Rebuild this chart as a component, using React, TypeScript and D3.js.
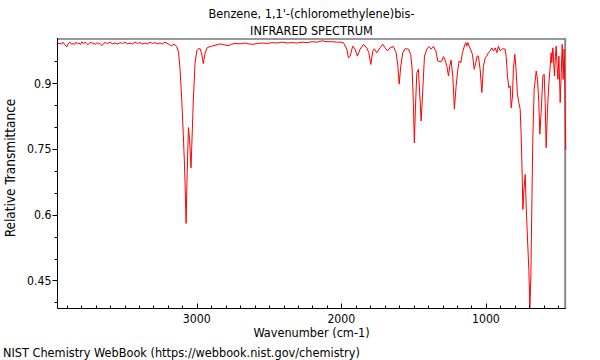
import React from "react";
import * as d3 from "d3";

const TITLE = "Benzene, 1,1'-(chloromethylene)bis-";
const SUBTITLE = "INFRARED SPECTRUM";
const X_LABEL = "Wavenumber (cm-1)";
const Y_LABEL = "Relative Transmittance";
const FOOTER = "NIST Chemistry WebBook (https://webbook.nist.gov/chemistry)";

const X_DOMAIN: [number, number] = [3965, 448];
const Y_DOMAIN: [number, number] = [0.3863, 0.9989];
const X_MAJOR_TICKS = [3000, 2000, 1000];
const X_MINOR_TICKS = [3900, 3800, 3700, 3600, 3500, 3400, 3300, 3200, 3100, 2900, 2800, 2700, 2600, 2500, 2400, 2300, 2200, 2100, 1900, 1800, 1700, 1600, 1500, 1400, 1300, 1200, 1100, 900, 800, 700, 600, 500];
const Y_MAJOR_TICKS = [0.45, 0.6, 0.75, 0.9];
const Y_MINOR_TICKS = [0.4, 0.5, 0.55, 0.65, 0.7, 0.8, 0.85, 0.95];

// [wavenumber (cm-1), relative transmittance]
const SPECTRUM: [number, number][] = [
  [3965, 0.994], [3956, 0.990], [3946, 0.992], [3936, 0.989], [3926, 0.994], [3912, 0.988], [3900, 0.983], [3888, 0.991],
  [3877, 0.994], [3866, 0.989], [3856, 0.991], [3846, 0.988], [3836, 0.994], [3825, 0.990], [3815, 0.992], [3804, 0.989],
  [3794, 0.995], [3783, 0.990], [3773, 0.994], [3762, 0.991], [3752, 0.988], [3742, 0.992], [3732, 0.994], [3721, 0.990],
  [3711, 0.992], [3700, 0.989], [3690, 0.993], [3680, 0.990], [3670, 0.991], [3656, 0.986], [3645, 0.991], [3635, 0.993],
  [3618, 0.991], [3600, 0.994], [3583, 0.990], [3566, 0.992], [3548, 0.990], [3531, 0.993], [3514, 0.991], [3497, 0.994],
  [3480, 0.990], [3462, 0.992], [3445, 0.990], [3427, 0.994], [3410, 0.991], [3393, 0.993], [3375, 0.990], [3358, 0.992],
  [3341, 0.990], [3324, 0.994], [3306, 0.991], [3289, 0.993], [3272, 0.990], [3254, 0.992], [3237, 0.990], [3220, 0.994],
  [3199, 0.990], [3186, 0.988], [3173, 0.985], [3157, 0.990],
  [3139, 0.984], [3126, 0.971], [3116, 0.933], [3104, 0.862], [3093, 0.780], [3085, 0.713], [3079, 0.645], [3074, 0.580],
  [3067, 0.691], [3058, 0.799], [3050, 0.771], [3040, 0.707], [3031, 0.793], [3024, 0.862], [3012, 0.946], [3000, 0.974],
  [2989, 0.979], [2977, 0.979], [2966, 0.967], [2955, 0.945], [2943, 0.969], [2929, 0.981], [2908, 0.984], [2881, 0.986],
  [2860, 0.988], [2839, 0.990], [2812, 0.988], [2784, 0.986], [2760, 0.989], [2736, 0.991], [2700, 0.990], [2666, 0.992],
  [2640, 0.990], [2611, 0.989], [2580, 0.991], [2548, 0.992], [2512, 0.991], [2479, 0.993], [2445, 0.992], [2410, 0.994],
  [2375, 0.992], [2341, 0.993], [2305, 0.992], [2272, 0.994], [2238, 0.993], [2202, 0.995], [2168, 0.994], [2133, 0.997],
  [2100, 0.995], [2064, 0.995], [2035, 0.994], [2009, 0.994], [1986, 0.993],
  [1962, 0.978], [1951, 0.958], [1940, 0.962], [1921, 0.985], [1905, 0.978], [1889, 0.962], [1870, 0.978], [1847, 0.989],
  [1824, 0.981], [1810, 0.970], [1796, 0.943], [1782, 0.974], [1773, 0.979], [1755, 0.970], [1732, 0.981], [1713, 0.989],
  [1697, 0.981], [1681, 0.974], [1663, 0.981], [1640, 0.984], [1621, 0.970], [1609, 0.939], [1600, 0.898], [1589, 0.939],
  [1575, 0.970], [1559, 0.979], [1536, 0.978], [1520, 0.966], [1510, 0.932], [1502, 0.856], [1495, 0.764], [1488, 0.839],
  [1478, 0.924], [1467, 0.932], [1457, 0.871], [1448, 0.814], [1439, 0.871], [1425, 0.962], [1409, 0.978], [1393, 0.984],
  [1379, 0.978], [1363, 0.984], [1346, 0.974], [1333, 0.951], [1317, 0.949], [1305, 0.951], [1294, 0.961], [1282, 0.953],
  [1270, 0.939], [1259, 0.917], [1250, 0.939], [1241, 0.953], [1229, 0.917], [1218, 0.841], [1206, 0.894], [1194, 0.932],
  [1185, 0.951], [1174, 0.947], [1162, 0.970], [1149, 0.985], [1139, 0.993], [1132, 0.985], [1125, 0.993], [1116, 0.985],
  [1102, 0.974], [1093, 0.966], [1081, 0.932], [1070, 0.947], [1061, 0.962], [1052, 0.962], [1040, 0.932], [1028, 0.879],
  [1017, 0.939], [1005, 0.958], [994, 0.962], [982, 0.970], [971, 0.974], [959, 0.981], [948, 0.974], [936, 0.981],
  [924, 0.970], [913, 0.985], [901, 0.974], [886, 0.979], [867, 0.978], [860, 0.962], [851, 0.917], [841, 0.890],
  [832, 0.894], [825, 0.844], [816, 0.871], [810, 0.932], [800, 0.966], [793, 0.939], [782, 0.875], [772, 0.856],
  [763, 0.841], [756, 0.780], [749, 0.688], [744, 0.612], [737, 0.658], [728, 0.692], [722, 0.627], [713, 0.551],
  [703, 0.475], [696, 0.388], [689, 0.460], [682, 0.627], [675, 0.780], [666, 0.886], [652, 0.928], [643, 0.909],
  [634, 0.856], [627, 0.784], [618, 0.833], [606, 0.917], [597, 0.921], [590, 0.856], [583, 0.753], [574, 0.841],
  [564, 0.901], [555, 0.939], [549, 0.970], [544, 0.947], [537, 0.981], [533, 0.962], [526, 0.917], [519, 0.962],
  [514, 0.985], [509, 0.947], [502, 0.909], [495, 0.962], [486, 0.856], [479, 0.924], [472, 0.989], [466, 0.909],
  [459, 0.978], [454, 0.894], [448, 0.748],
];

const W = 600;
const H = 360;
const LEFT = 57.3;
const RIGHT = 565.7;
const TOP = 40;
const BOTTOM = 308.3;
const FONT = "'DejaVu Sans Condensed', 'DejaVu Sans', sans-serif";
const TEXT_SIZE = 12.6;
const TICK_SIZE = 12.2;

export default function App() {
  const x = d3.scaleLinear().domain(X_DOMAIN).range([LEFT, RIGHT]);
  const y = d3.scaleLinear().domain(Y_DOMAIN).range([BOTTOM, TOP]);
  const line = d3
    .line<[number, number]>()
    .x((d) => x(d[0]))
    .y((d) => y(d[1]));
  const ax = Math.round(LEFT) + 0.5;
  const ay = Math.round(BOTTOM) + 0.5;
  const cx = (LEFT + RIGHT) / 2;

  return (
    <svg
      width={W}
      height={H}
      style={{ position: "absolute", left: 0, top: 0, background: "#fff" }}
      fontFamily={FONT}
      fontStretch="condensed"
    >
      <text x={cx} y={17.5} textAnchor="middle" fontSize={TEXT_SIZE} fill="#000">
        {TITLE}
      </text>
      <text x={cx} y={34.5} textAnchor="middle" fontSize={TEXT_SIZE} fill="#000">
        {SUBTITLE}
      </text>

      {/* frame top/right */}
      <line x1={ax} x2={RIGHT} y1={TOP - 1} y2={TOP - 1} stroke="#999" strokeWidth={2} />
      <line x1={RIGHT - 0.5} x2={RIGHT - 0.5} y1={TOP - 2} y2={ay} stroke="#888" strokeWidth={2} />

      <path d={line(SPECTRUM) || ""} fill="none" stroke="#ff0000" strokeWidth={1} strokeLinejoin="round" />

      {/* axes */}
      <line x1={ax} x2={ax} y1={TOP - 2} y2={ay} stroke="#000" strokeWidth={1} />
      <line x1={ax} x2={RIGHT} y1={ay} y2={ay} stroke="#000" strokeWidth={1} />

      {Y_MAJOR_TICKS.map((t) => (
        <g key={"ym" + t}>
          <line x1={ax - 5} x2={ax} y1={Math.round(y(t)) + 0.5} y2={Math.round(y(t)) + 0.5} stroke="#000" />
          <text x={ax - 6} y={y(t)} dy="0.35em" textAnchor="end" fontSize={TICK_SIZE} fill="#000">
            {String(t)}
          </text>
        </g>
      ))}
      {Y_MINOR_TICKS.map((t) => (
        <line key={"yn" + t} x1={ax - 3} x2={ax} y1={Math.round(y(t)) + 0.5} y2={Math.round(y(t)) + 0.5} stroke="#000" />
      ))}

      {X_MAJOR_TICKS.map((t) => (
        <g key={"xm" + t}>
          <line x1={Math.round(x(t)) + 0.5} x2={Math.round(x(t)) + 0.5} y1={ay - 5} y2={ay} stroke="#000" />
          <text x={x(t)} y={323} textAnchor="middle" fontSize={TICK_SIZE} fill="#000">
            {String(t)}
          </text>
        </g>
      ))}
      {X_MINOR_TICKS.map((t) => (
        <line key={"xn" + t} x1={Math.round(x(t)) + 0.5} x2={Math.round(x(t)) + 0.5} y1={ay - 3} y2={ay} stroke="#000" />
      ))}

      <text x={cx} y={336.5} textAnchor="middle" fontSize={TEXT_SIZE} fill="#000">
        {X_LABEL}
      </text>
      <text
        transform={`translate(14.5, 168) rotate(-90)`}
        textAnchor="middle"
        fontSize={13.5}
        fill="#000"
      >
        {Y_LABEL}
      </text>
      <text x={3} y={357} fontSize={TEXT_SIZE} fill="#000">
        {FOOTER}
      </text>
    </svg>
  );
}
